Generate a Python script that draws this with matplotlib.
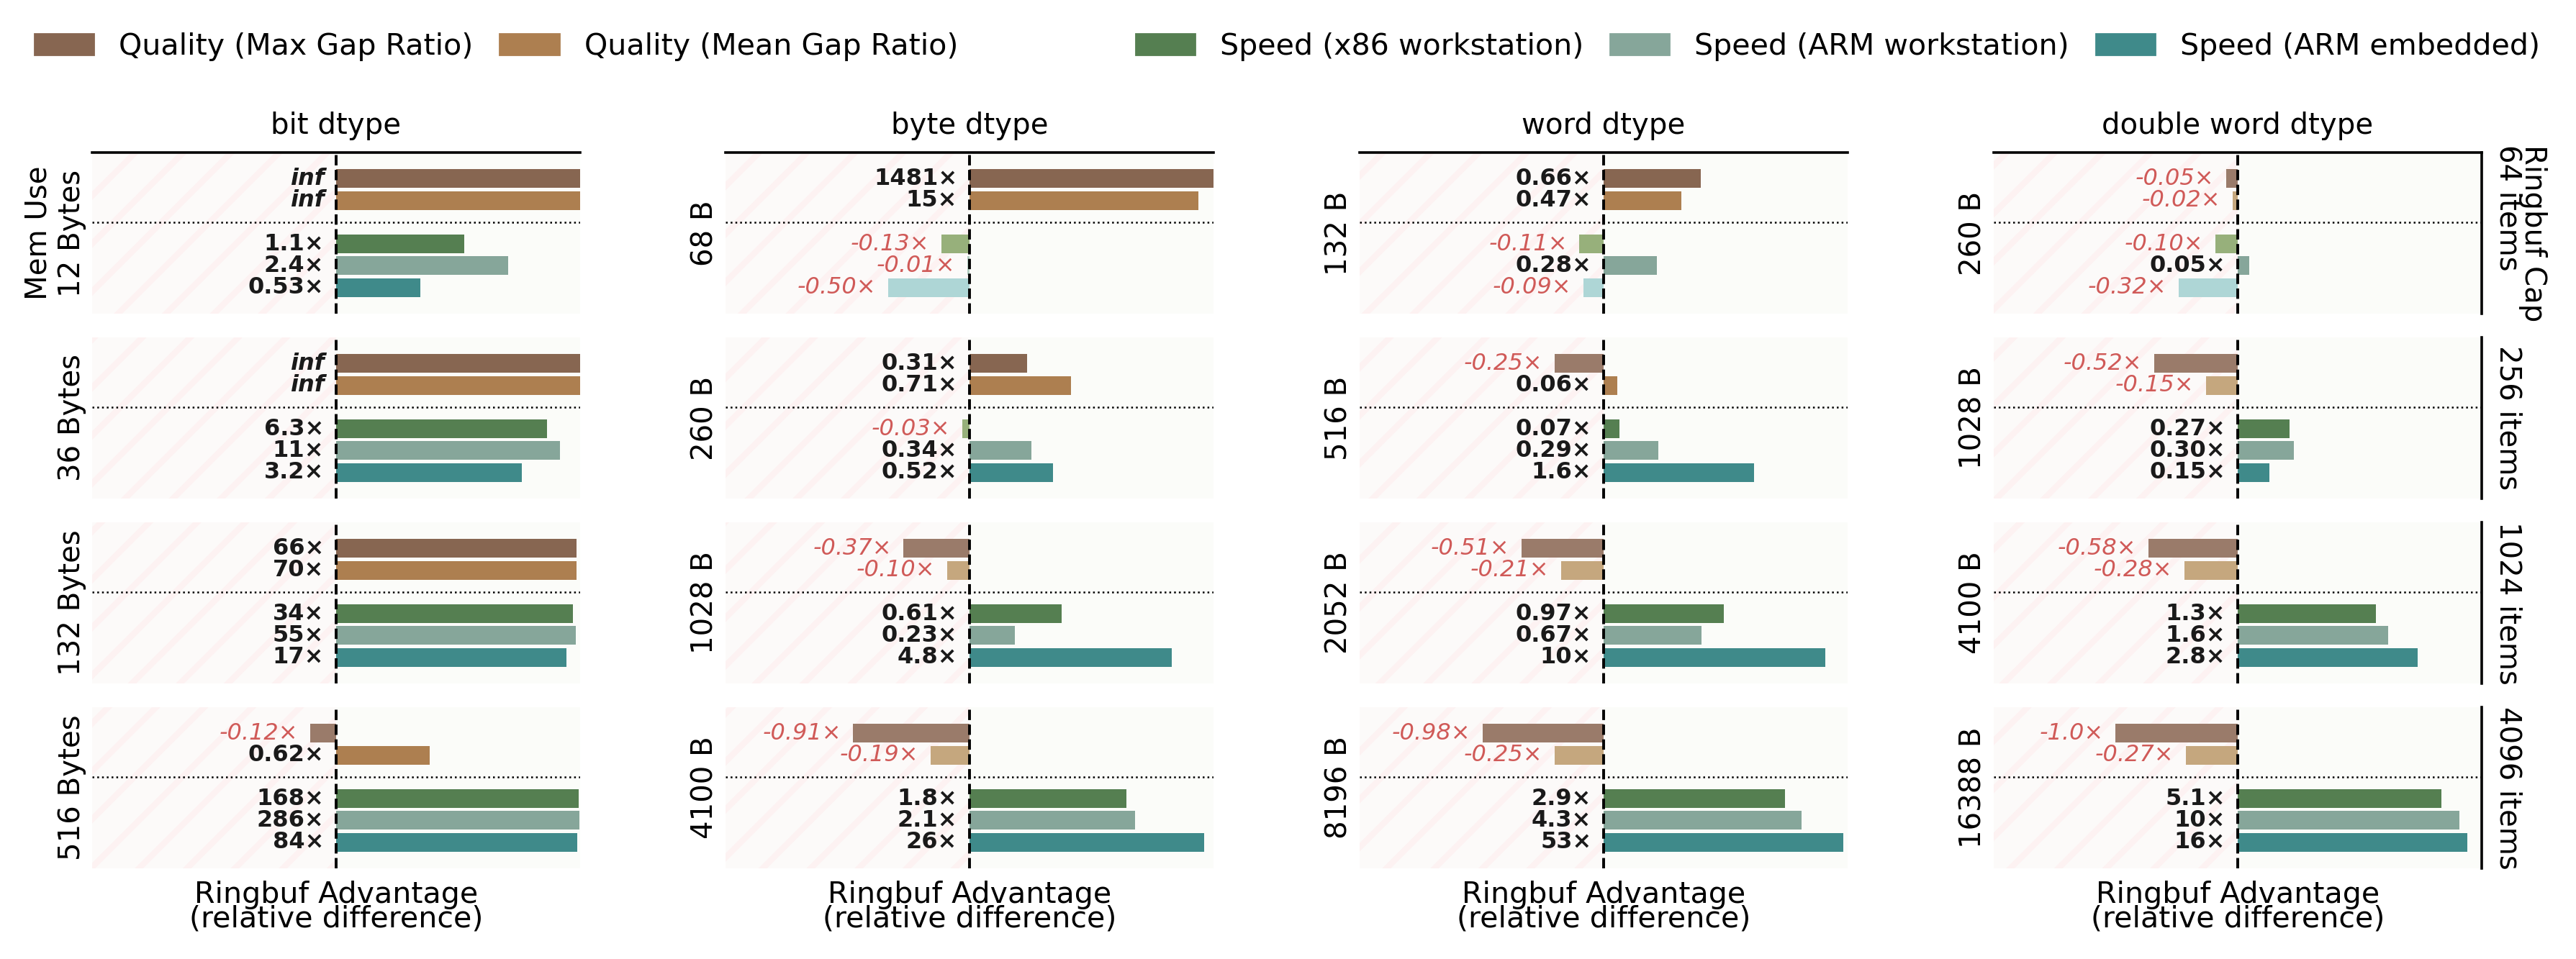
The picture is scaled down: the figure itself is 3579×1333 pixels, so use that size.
import numpy as np
import matplotlib.pyplot as plt
from matplotlib.patches import Patch

plt.rcParams['font.family'] = ['DejaVu Sans']
plt.rcParams['hatch.linewidth'] = 3.0
plt.rcParams['hatch.color'] = '#fdf2f2'

inf = np.inf

dtypes = ["bit dtype", "byte dtype", "word dtype", "double word dtype"]
caps = ["Ringbuf Cap\n64 items", "256 items", "1024 items", "4096 items"]
# mem use labels, [dtype][cap]
mem_use = [
    ["Mem Use\n12 Bytes", "36 Bytes", "132 Bytes", "516 Bytes"],
    ["68 B", "260 B", "1028 B", "4100 B"],
    ["132 B", "516 B", "2052 B", "8196 B"],
    ["260 B", "1028 B", "4100 B", "16388 B"],
]
series = ["Quality (Max Gap Ratio)", "Quality (Mean Gap Ratio)",
          "Speed (x86 workstation)", "Speed (ARM workstation)", "Speed (ARM embedded)"]

# relative differences, rows = ringbuf cap, cols = dtype
max_gap = [
    [inf, 1481, 0.66, -0.05],
    [inf, 0.31, -0.25, -0.52],
    [66, -0.37, -0.51, -0.58],
    [-0.12, -0.91, -0.98, -1.0],
]
mean_gap = [
    [inf, 15, 0.47, -0.02],
    [inf, 0.71, 0.06, -0.15],
    [70, -0.10, -0.21, -0.28],
    [0.62, -0.19, -0.25, -0.27],
]
speed_x86 = [
    [1.1, -0.13, -0.11, -0.10],
    [6.3, -0.03, 0.07, 0.27],
    [34, 0.61, 0.97, 1.3],
    [168, 1.8, 2.9, 5.1],
]
speed_arm_ws = [
    [2.4, -0.01, 0.28, 0.05],
    [11, 0.34, 0.29, 0.30],
    [55, 0.23, 0.67, 1.6],
    [286, 2.1, 4.3, 10],
]
speed_arm_emb = [
    [0.53, -0.50, -0.09, -0.32],
    [3.2, 0.52, 1.6, 0.15],
    [17, 4.8, 10, 2.8],
    [84, 26, 53, 16],
]
all_series = [max_gap, mean_gap, speed_x86, speed_arm_ws, speed_arm_emb]

pos_colors = ['#876651', '#ad7f50', '#557f51', '#86a69a', '#3f8a8a']
neg_colors = ['#9a7b6a', '#c5a77e', '#97b07b', '#b4cfc2', '#aed6d6']
ypos = [0, 1, 3, 4, 5]
XMAX = 1e6


def fwd(v):
    v = np.asarray(v, dtype=float)
    return v / (1 + np.abs(v))


def inv(x):
    x = np.asarray(x, dtype=float)
    with np.errstate(divide='ignore', invalid='ignore'):
        return x / (1 - np.abs(x))


def fmt(v):
    if np.isinf(v):
        return "inf"
    a = abs(v)
    if a >= 10:
        s = f"{v:.0f}"
    elif a >= 1:
        s = f"{v:.1f}"
    else:
        s = f"{v:.2f}"
    return s + "×"


W, H = 3580, 1333
fig = plt.figure(figsize=(W / 200, H / 200), dpi=200)

col_x = [128, 1008, 1889, 2770]
row_top = [212, 469, 726, 983]
pw, ph = 678, 224

for r in range(4):
    for c in range(4):
        ax = fig.add_axes([col_x[c] / W, 1 - (row_top[r] + ph) / H, pw / W, ph / H])
        ax.set_xscale('function', functions=(fwd, inv))
        ax.set_xlim(-XMAX, XMAX)
        ax.set_ylim(6.2, -1.2)
        ax.set_facecolor('#fbfcf9')
        ax.axvspan(-XMAX, 0, facecolor='#fcfaf9', edgecolor='#fdf2f2', hatch='/', lw=0, zorder=0)

        vals = [s[r][c] for s in all_series]
        widths = [min(v, XMAX) for v in vals]
        colors = [pc if v >= 0 else nc for v, pc, nc in zip(vals, pos_colors, neg_colors)]
        ax.barh(ypos, widths, height=0.86, color=colors, zorder=2)

        for y, v in zip(ypos, vals):
            if v >= 0:
                ax.annotate(fmt(v), xy=(0, y), xytext=(-6, 0), textcoords='offset points',
                            ha='right', va='center', fontsize=11.5, fontweight='bold',
                            color='#1a1a1a', style='italic' if np.isinf(v) else 'normal')
            else:
                ax.annotate(fmt(v), xy=(v, y), xytext=(-6, 0), textcoords='offset points',
                            ha='right', va='center', fontsize=11.5, style='italic',
                            color='#d05a58')

        ax.axvline(0, color='black', ls='--', lw=1.4, zorder=3)
        ax.axhline(2, color='black', ls=':', lw=0.9, zorder=3)

        ax.set_xticks([])
        ax.set_yticks([])
        for side in ['left', 'bottom', 'top', 'right']:
            ax.spines[side].set_visible(False)
        if r == 0:
            ax.spines['top'].set_visible(True)
            ax.spines['top'].set_linewidth(1.3)
            ax.set_title(dtypes[c], fontsize=14.5, pad=9.5)
        if c == 3:
            ax.spines['right'].set_visible(True)
            ax.spines['right'].set_linewidth(1.3)
            ax.text(1.025, 0.5, caps[r], transform=ax.transAxes, rotation=270,
                    ha='left', va='center', fontsize=14.5, linespacing=0.8)
        ax.set_ylabel(mem_use[c][r], fontsize=14.5, labelpad=3)
        if r == 3:
            ax.set_xlabel("Ringbuf Advantage\n(relative difference)", fontsize=14.8,
                          labelpad=6, linespacing=0.8)

handles = [Patch(color=pc, label=s) for pc, s in zip(pos_colors, series)]
leg_kw = dict(frameon=False, fontsize=14.8, handlelength=2.0, handleheight=0.7,
              handletextpad=0.85, columnspacing=0.9, borderpad=0, borderaxespad=0)
fig.legend(handles=handles[:2], loc='center left', bbox_to_anchor=(48 / W, 1 - 65 / H),
           ncol=2, **leg_kw)
fig.legend(handles=handles[2:], loc='center right', bbox_to_anchor=(3529 / W, 1 - 65 / H),
           ncol=3, **leg_kw)

fig.savefig('out.png', dpi=200)
